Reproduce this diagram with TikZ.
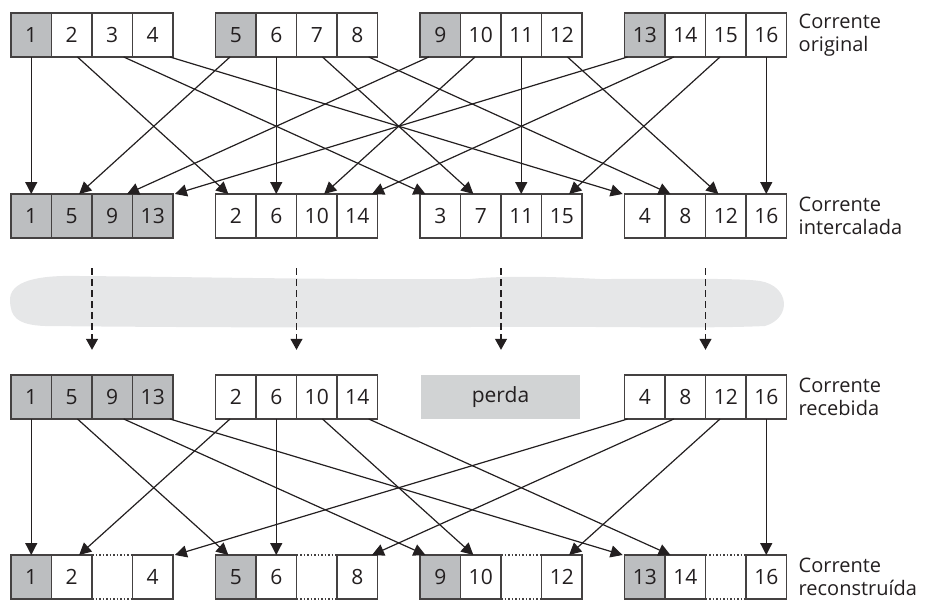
\documentclass[tikz,border=0pt]{standalone}
\usepackage{fontspec}
\setmainfont{Open Sans}
\usetikzlibrary{arrows.meta,calc,positioning}

\definecolor{inkline}{HTML}{231F20}
\definecolor{leadgray}{HTML}{BCBEC0}
\definecolor{lossgray}{HTML}{D1D3D4}
\definecolor{channelgray}{HTML}{E6E7E8}

\begin{document}
\begin{tikzpicture}[x=1pt, y=-1pt,
    font=\fontsize{20}{23}\selectfont,
    cell/.style={draw=inkline!85, line width=1.3pt, minimum width=40.5pt,
      minimum height=44pt, inner sep=0pt, outer sep=0pt, text=inkline,
      font=\fontsize{21}{24}\selectfont},
    lead/.style={cell, fill=leadgray},
    gapcell/.style={minimum width=40.5pt, minimum height=44pt,
      inner sep=0pt, outer sep=0pt},
    loss/.style={fill=lossgray, minimum width=159pt, minimum height=44pt,
      inner sep=0pt, text=inkline, font=\fontsize{21}{24}\selectfont},
    streamname/.style={anchor=west, align=left, inner sep=0pt, text=inkline},
    gapline/.style={draw=inkline!85, line width=1.2pt, dash pattern=on 1.5pt off 2pt},
    arrow/.style={-{Triangle[length=12pt,width=12pt]}, line width=1.2pt, draw=inkline},
    channel/.style={-{Triangle[length=11pt,width=12pt]}, line width=1.1pt,
      draw=inkline, dash pattern=on 7pt off 4pt}
  ]
  \useasboundingbox (0,0) rectangle (928,600);

  % canal (mancha cinzenta)
  \fill[channelgray] (10,302) .. controls (8,280) and (40,275) .. (80,276)
    .. controls (200,277) and (350,280) .. (470,279)
    .. controls (500,276) and (540,276) .. (600,279)
    .. controls (680,279) and (740,278) .. (760,281)
    .. controls (790,286) and (792,318) .. (765,326)
    .. controls (700,329) and (600,326) .. (470,327)
    .. controls (300,328) and (150,327) .. (45,326)
    .. controls (15,325) and (11,315) .. (10,302) -- cycle;

  % corrente original
  \foreach \g in {0,...,3} {
    \pgfmathtruncatemacro\n{4*\g+1}
    \node[lead] (o\n) at ({31.25+204.5*\g},35) {\n};
    \foreach \p in {2,3,4} {
      \pgfmathtruncatemacro\n{4*\g+\p}
      \pgfmathtruncatemacro\m{\n-1}
      \node[cell, right=0pt of o\m] (o\n) {\n};
    }
  }

  % corrente intercalada
  \foreach \g/\kind in {0/lead,1/cell,2/cell,3/cell} {
    \pgfmathtruncatemacro\n{\g+1}
    \node[\kind] (i\n) at ({31.25+204.5*\g},216) {\n};
    \foreach \p in {1,2,3} {
      \pgfmathtruncatemacro\n{\g+1+4*\p}
      \pgfmathtruncatemacro\m{\n-4}
      \node[\kind, right=0pt of i\m] (i\n) {\n};
    }
  }

  % corrente recebida
  \foreach \g/\kind in {0/lead,1/cell,3/cell} {
    \pgfmathtruncatemacro\n{\g+1}
    \node[\kind] (r\n) at ({31.25+204.5*\g},397) {\n};
    \foreach \p in {1,2,3} {
      \pgfmathtruncatemacro\n{\g+1+4*\p}
      \pgfmathtruncatemacro\m{\n-4}
      \node[\kind, right=0pt of r\m] (r\n) {\n};
    }
  }
  \node[loss] (lost) at (500.5,397) {perda};

  % corrente reconstruida
  \foreach \g in {0,...,3} {
    \pgfmathtruncatemacro\n{4*\g+1}
    \node[lead] (b\n) at ({31.25+204.5*\g},577) {\n};
    \foreach \p/\kind in {2/cell,3/gapcell,4/cell} {
      \pgfmathtruncatemacro\n{4*\g+\p}
      \pgfmathtruncatemacro\m{\n-1}
      \node[\kind, right=0pt of b\m] (b\n) {\ifnum\p=3\else\n\fi};
    }
  }
  \foreach \n in {3,7,11,15} {
    \draw[gapline] (b\n.north west) -- (b\n.north east);
    \draw[gapline] (b\n.south west) -- (b\n.south east);
  }

  \node[streamname, right=12pt of o16] {Corrente\\original};
  \node[streamname, right=12pt of i16] {Corrente\\intercalada};
  \node[streamname, right=12pt of r16] {Corrente\\recebida};
  \node[streamname, right=12pt of b16] {Corrente\\reconstruída};

  % ligacoes
  \foreach \n in {1,...,16}
    \draw[arrow] ($(o\n.south)!0.035!(i\n.north |- o\n.south)$)
      -- ($(i\n.north)!0.045!(o\n.south |- i\n.north)$);
  \foreach \n in {1,2,4,5,6,8,9,10,12,13,14,16}
    \draw[arrow] ($(r\n.south)!0.035!(b\n.north |- r\n.south)$)
      -- ($(b\n.north)!0.045!(r\n.south |- b\n.north)$);

  \foreach \n/\k in {5/1,6/2,7/3,8/4} {
    \coordinate (tx\k) at ($(i\n.south east)+(0,30)$);
    \coordinate (rx\k) at ($(tx\k |- lost.north)+(0,-25)$);
    \draw[channel] (tx\k) -- (rx\k);
  }
\end{tikzpicture}
\end{document}
